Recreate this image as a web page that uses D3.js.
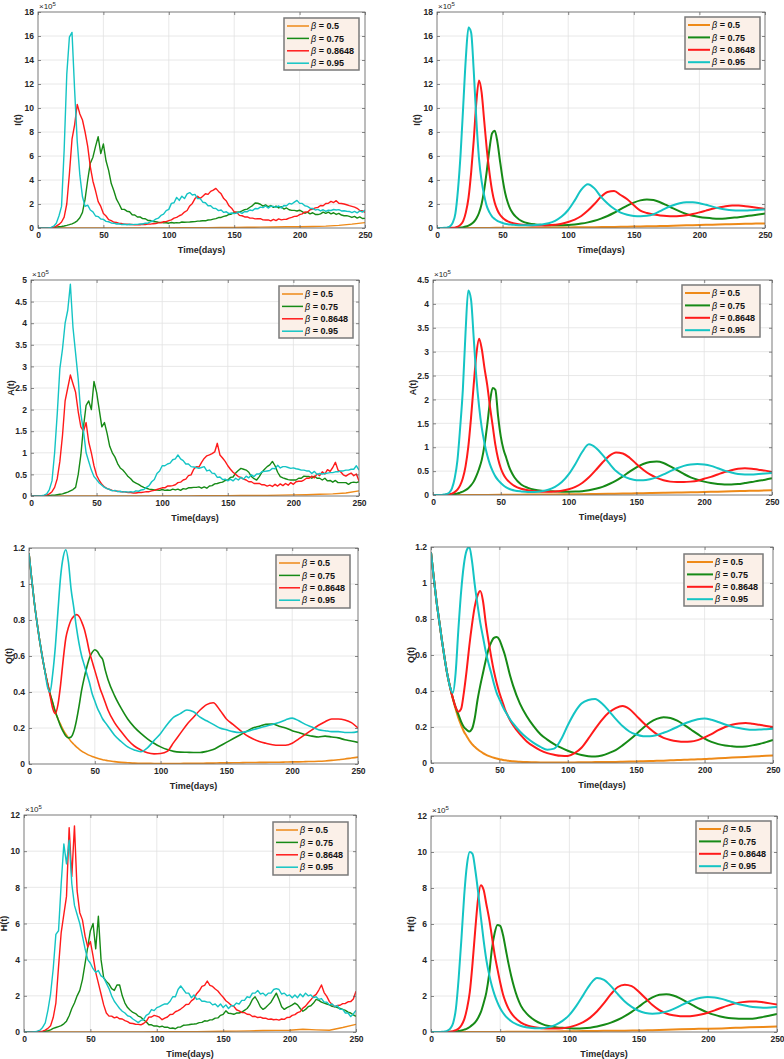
<!DOCTYPE html>
<html><head><meta charset="utf-8">
<script src="https://cdn.jsdelivr.net/npm/d3@7"></script>
<style>body{margin:0;background:#fff}svg{display:block}</style>
</head><body>
<svg id="chart" width="784" height="1059"></svg>
<script>
// ---------- categories / ticks ----------
const betaLabels = ["0.5", "0.75", "0.8648", "0.95"];
const xTicks = [0, 50, 100, 150, 200, 250];
const yTicksI = [0, 2, 4, 6, 8, 10, 12, 14, 16, 18];
const yTicksA_sto = [0, 0.5, 1, 1.5, 2, 2.5, 3, 3.5, 4, 4.5, 5];
const yTicksA_det = [0, 0.5, 1, 1.5, 2, 2.5, 3, 3.5, 4, 4.5];
const yTicksQ = [0, 0.2, 0.4, 0.6, 0.8, 1, 1.2];
const yTicksH = [0, 2, 4, 6, 8, 10, 12];

// ---------- time grids (days) ----------
const t2 = d3.range(0, 251, 2);                                  // stochastic paths
const tS = [...d3.range(0, 61, 2), ...d3.range(65, 251, 5)];     // smooth solutions
const t10 = d3.range(0, 251, 10);                                // slow beta=0.5 curves

// ---------- I(t) stochastic (x10^5) ----------
const I_sto_05 = [0,0,0,0,0,0,0,0,0,0.01, 0.01,0.02,0.02,0.03,0.04,0.05,0.06,0.07,0.08,0.1, 0.11,0.13,0.16,0.22,0.32,0.45];
const I_sto_075 = [
0,0,0,0,0.01,0.02,0.04,0.07,0.1,0.13,
0.17,0.22,0.28,0.35,0.45,0.6,0.85,1.3,2.4,4.0,
5.4,5.9,6.8,7.6,6.2,7.0,5.6,4.8,3.7,3.1,
2.4,2.0,1.55,1.55,1.4,1.35,1.1,1.08,0.92,0.93,
0.78,0.77,0.63,0.62,0.53,0.52,0.48,0.47,0.43,0.44,
0.4,0.46,0.42,0.45,0.43,0.5,0.48,0.49,0.5,0.52,
0.53,0.57,0.58,0.6,0.6,0.67,0.68,0.74,0.78,0.87,
0.88,0.97,1.02,1.13,1.17,1.28,1.32,1.33,1.42,1.53,
1.57,1.73,1.87,2.08,2.06,1.98,1.82,1.93,1.77,1.87,
1.72,1.82,1.67,1.77,1.58,1.67,1.52,1.47,1.47,1.42,
1.48,1.37,1.23,1.32,1.18,1.27,1.13,1.12,1.18,1.32,
1.22,1.32,1.18,1.27,1.13,1.22,1.08,1.02,1.03,0.97,
0.88,0.97,0.83,0.92,0.79,0.8];
const I_sto_08648 = [
0,0,0,0,0,0.01,0.05,0.15,0.3,0.5,
0.9,2.0,4.5,7.4,8.6,10.3,9.5,9.0,8.0,6.8,
5.1,3.9,3.1,2.2,1.8,1.2,1.0,0.7,0.62,0.48,
0.46,0.38,0.37,0.32,0.31,0.29,0.29,0.26,0.28,0.27,
0.31,0.29,0.33,0.32,0.36,0.37,0.43,0.44,0.52,0.53,
0.62,0.68,0.82,0.88,1.02,1.12,1.33,1.46,1.84,2.05,
2.45,2.65,2.45,2.65,2.85,2.8,3.05,3.15,3.3,3.05,
2.85,2.45,2.25,1.85,1.65,1.35,1.3,1.05,1.02,0.92,
0.92,0.82,0.82,0.76,0.77,0.78,0.68,0.67,0.68,0.6,
0.72,0.62,0.76,0.68,0.72,0.73,0.82,0.88,0.97,0.98,
1.12,1.18,1.33,1.32,1.52,1.58,1.68,1.72,1.88,1.86,
2.04,2.06,2.22,2.12,2.28,2.06,2.04,2.0,1.94,1.86,
1.8,1.74,1.64,1.46,1.44,1.3];
const I_sto_095 = [
0,0,0,0,0.02,0.05,0.15,0.4,1.0,1.8,
6.5,12.8,15.9,16.3,11.5,7.2,4.4,2.6,1.8,1.9,
1.5,1.35,1.0,0.95,0.75,0.72,0.55,0.52,0.42,0.4,
0.33,0.35,0.28,0.31,0.27,0.31,0.28,0.3,0.3,0.34,
0.33,0.4,0.4,0.52,0.58,0.74,0.82,1.05,1.15,1.45,
1.55,2.05,2.1,2.55,2.3,2.65,2.45,2.85,2.95,2.75,
2.8,2.45,2.45,2.15,2.1,1.85,1.85,1.65,1.62,1.45,
1.5,1.3,1.35,1.2,1.25,1.2,1.25,1.32,1.22,1.38,
1.36,1.5,1.45,1.62,1.6,1.74,1.7,1.84,1.66,1.82,
1.8,1.72,1.84,1.66,1.88,1.85,2.05,2.0,2.15,2.3,
2.05,2.05,1.85,1.8,1.65,1.63,1.5,1.55,1.42,1.52,
1.38,1.48,1.46,1.54,1.5,1.53,1.42,1.44,1.4,1.38,
1.28,1.38,1.26,1.42,1.32,1.5];

// ---------- I(t) deterministic (x10^5) ----------
const I_det_05 = [0,0,0,0.005,0.01,0.015,0.02,0.025,0.03,0.04, 0.05,0.06,0.07,0.08,0.1,0.12,0.14,0.16,0.19,0.22, 0.25,0.28,0.31,0.33,0.36,0.38];
const I_det_075 = [
0,0,0,0,0,0,0,0.01,0.02,0.04,
0.07,0.12,0.2,0.32,0.5,0.8,1.25,2.0,3.2,4.8,
6.6,7.9,8.1,7.2,5.6,4.1,2.9,2.1,1.55,1.2,
0.95,0.55,0.38,0.3,0.26,0.23,0.22,0.23,0.25,0.3,
0.37,0.47,0.6,0.78,1.0,1.27,1.57,1.87,2.12,2.3,
2.38,2.33,2.15,1.9,1.63,1.38,1.17,1.02,0.92,0.85,
0.8,0.78,0.8,0.85,0.9,0.98,1.05,1.13,1.2];
const I_det_08648 = [
0,0,0,0,0,0.01,0.02,0.05,0.12,0.28,
0.6,1.3,2.5,4.6,7.3,10.5,12.3,11.3,8.9,6.5,
4.6,3.1,2.1,1.5,1.1,0.85,0.68,0.55,0.46,0.4,
0.35,0.27,0.22,0.2,0.2,0.22,0.27,0.35,0.5,0.7,
1.0,1.45,2.0,2.6,3.0,3.08,2.75,2.4,1.9,1.45,
1.25,1.12,1.05,1.0,0.98,1.0,1.07,1.17,1.3,1.45,
1.6,1.72,1.82,1.87,1.87,1.82,1.75,1.67,1.58];
const I_det_095 = [
0,0,0,0.02,0.05,0.15,0.45,1.2,3.2,6.2,
10.2,14.2,16.7,16.3,13.1,9.0,5.8,3.9,2.7,1.8,
1.3,0.95,0.75,0.6,0.5,0.42,0.36,0.32,0.29,0.27,
0.25,0.23,0.23,0.25,0.3,0.4,0.6,0.95,1.5,2.3,
3.2,3.65,3.3,2.6,2.05,1.6,1.28,1.1,1.0,0.98,
1.02,1.15,1.4,1.68,1.9,2.07,2.15,2.15,2.07,1.93,
1.78,1.65,1.55,1.48,1.45,1.45,1.48,1.52,1.55];

// ---------- A(t) stochastic (x10^5) ----------
const A_sto_05 = [0,0,0,0,0,0,0,0,0,0, 0.002,0.003,0.004,0.005,0.006,0.008,0.01,0.012,0.015,0.02, 0.025,0.03,0.04,0.05,0.07,0.12];
const A_sto_075 = [
0,0,0,0,0,0,0.01,0.01,0.02,0.02,
0.03,0.04,0.05,0.07,0.09,0.12,0.15,0.2,0.5,0.95,
1.6,2.1,2.2,2.0,2.65,2.4,2.0,1.6,1.7,1.45,
1.15,1.0,0.9,0.75,0.65,0.6,0.53,0.45,0.4,0.33,
0.3,0.27,0.23,0.2,0.18,0.16,0.15,0.14,0.14,0.13,
0.15,0.13,0.14,0.13,0.16,0.14,0.16,0.13,0.17,0.16,
0.19,0.19,0.2,0.2,0.21,0.18,0.21,0.18,0.23,0.24,
0.28,0.29,0.31,0.32,0.36,0.37,0.43,0.44,0.53,0.59,
0.64,0.62,0.6,0.55,0.45,0.4,0.37,0.45,0.55,0.62,
0.68,0.72,0.8,0.7,0.55,0.45,0.42,0.4,0.38,0.37,
0.37,0.37,0.41,0.41,0.46,0.45,0.45,0.41,0.46,0.41,
0.41,0.37,0.41,0.35,0.36,0.32,0.36,0.31,0.31,0.31,
0.31,0.27,0.31,0.32,0.31,0.33];
const A_sto_08648 = [
0,0,0,0,0,0.01,0.02,0.05,0.1,0.2,
0.4,0.8,1.4,2.2,2.5,2.8,2.6,2.4,1.95,1.6,
1.5,1.7,1.25,1.0,0.7,0.48,0.36,0.27,0.21,0.17,
0.15,0.13,0.12,0.11,0.1,0.1,0.09,0.08,0.08,0.07,
0.07,0.08,0.08,0.09,0.1,0.1,0.12,0.13,0.15,0.17,
0.19,0.19,0.23,0.23,0.24,0.26,0.31,0.32,0.37,0.39,
0.47,0.49,0.62,0.68,0.67,0.78,0.87,0.93,0.95,0.98,
1.02,1.22,0.95,0.88,0.8,0.7,0.62,0.55,0.5,0.45,
0.43,0.39,0.37,0.33,0.33,0.29,0.29,0.29,0.26,0.26,
0.23,0.25,0.22,0.27,0.23,0.28,0.24,0.29,0.25,0.31,
0.27,0.33,0.34,0.34,0.37,0.41,0.41,0.46,0.42,0.51,
0.47,0.56,0.51,0.61,0.57,0.66,0.78,0.6,0.56,0.49,
0.46,0.5,0.53,0.47,0.51,0.35];
const A_sto_095 = [
0,0,0,0,0.01,0.02,0.05,0.15,0.35,1.0,
1.9,2.95,3.4,4.0,4.3,4.9,3.9,3.3,2.7,1.9,
1.5,1.0,0.8,0.6,0.45,0.38,0.3,0.25,0.2,0.17,
0.15,0.12,0.13,0.1,0.11,0.09,0.1,0.09,0.1,0.09,
0.12,0.11,0.14,0.15,0.2,0.24,0.33,0.38,0.52,0.58,
0.7,0.7,0.74,0.76,0.84,0.86,0.95,0.86,0.82,0.74,
0.74,0.68,0.67,0.66,0.64,0.66,0.68,0.58,0.6,0.53,
0.52,0.43,0.44,0.38,0.39,0.35,0.39,0.35,0.41,0.37,
0.43,0.39,0.46,0.42,0.49,0.45,0.51,0.51,0.56,0.57,
0.58,0.59,0.64,0.63,0.71,0.65,0.68,0.68,0.66,0.64,
0.65,0.63,0.62,0.6,0.6,0.58,0.58,0.52,0.57,0.5,
0.52,0.51,0.52,0.53,0.54,0.54,0.56,0.56,0.58,0.58,
0.6,0.6,0.62,0.62,0.7,0.6];

// ---------- A(t) deterministic (x10^5) ----------
const A_det_05 = [0,0,0,0,0.002,0.004,0.006,0.008,0.01,0.012, 0.015,0.018,0.022,0.026,0.03,0.035,0.04,0.045,0.05,0.055, 0.065,0.07,0.08,0.085,0.09,0.1];
const A_det_075 = [
0,0,0,0,0,0,0.005,0.01,0.02,0.03,
0.05,0.07,0.1,0.14,0.2,0.28,0.4,0.55,0.74,1.05,
1.47,1.95,2.24,2.2,1.65,1.22,0.95,0.78,0.6,0.47,
0.37,0.22,0.15,0.11,0.09,0.08,0.075,0.07,0.07,0.072,
0.08,0.1,0.13,0.17,0.23,0.3,0.39,0.49,0.58,0.65,
0.69,0.7,0.67,0.6,0.52,0.44,0.37,0.32,0.28,0.25,
0.23,0.22,0.22,0.23,0.25,0.27,0.3,0.32,0.35];
const A_det_08648 = [
0,0,0,0,0,0.01,0.015,0.03,0.06,0.11,
0.2,0.35,0.6,1.0,1.6,2.3,2.95,3.27,3.05,2.65,
2.3,1.85,1.45,1.05,0.76,0.56,0.43,0.34,0.28,0.23,
0.19,0.13,0.1,0.08,0.07,0.07,0.075,0.09,0.12,0.17,
0.25,0.37,0.52,0.68,0.82,0.89,0.87,0.78,0.65,0.53,
0.43,0.36,0.31,0.28,0.27,0.27,0.28,0.3,0.34,0.38,
0.43,0.48,0.52,0.55,0.56,0.55,0.53,0.51,0.48];
const A_det_095 = [
0,0,0,0,0.01,0.02,0.05,0.14,0.35,0.72,
1.4,2.2,3.4,4.28,4.1,3.3,2.45,1.85,1.4,1.08,
0.83,0.64,0.5,0.39,0.31,0.25,0.2,0.16,0.13,0.11,
0.095,0.075,0.065,0.065,0.08,0.11,0.17,0.27,0.43,0.65,
0.9,1.06,0.99,0.84,0.66,0.5,0.4,0.34,0.31,0.31,
0.33,0.37,0.43,0.5,0.56,0.61,0.64,0.65,0.64,0.61,
0.56,0.51,0.47,0.44,0.43,0.43,0.44,0.45,0.46];

// ---------- Q(t) stochastic ----------
const Q_sto_05 = [
1.17,1.03,0.9,0.79,0.69,0.6,0.52,0.45,0.39,0.34,
0.29,0.25,0.22,0.19,0.165,0.145,0.125,0.11,0.095,0.083,
0.072,0.063,0.055,0.048,0.042,0.037,0.032,0.028,0.024,0.021,
0.018,0.013,0.009,0.007,0.005,0.004,0.004,0.003,0.003,0.003,
0.003,0.003,0.004,0.004,0.004,0.005,0.005,0.006,0.006,0.007,
0.007,0.008,0.008,0.009,0.009,0.01,0.01,0.011,0.012,0.012,
0.013,0.014,0.015,0.017,0.02,0.024,0.028,0.033,0.038];
const Q_sto_075 = [
1.17,1.03,0.9,0.79,0.69,0.6,0.52,0.45,0.39,0.34,
0.29,0.25,0.21,0.18,0.155,0.145,0.15,0.18,0.24,0.32,
0.41,0.48,0.54,0.59,0.62,0.635,0.625,0.6,0.58,0.52,
0.47,0.38,0.31,0.25,0.205,0.17,0.14,0.115,0.095,0.08,
0.07,0.066,0.065,0.064,0.064,0.07,0.08,0.1,0.12,0.14,
0.16,0.18,0.2,0.21,0.22,0.222,0.21,0.2,0.185,0.175,
0.162,0.155,0.15,0.155,0.15,0.145,0.135,0.128,0.12];
const Q_sto_08648 = [
1.17,1.03,0.9,0.79,0.69,0.6,0.52,0.45,0.38,0.31,
0.28,0.33,0.44,0.58,0.7,0.76,0.8,0.82,0.83,0.82,
0.79,0.75,0.69,0.62,0.57,0.52,0.47,0.42,0.38,0.34,
0.3,0.23,0.18,0.135,0.1,0.078,0.062,0.056,0.058,0.07,
0.12,0.17,0.22,0.26,0.3,0.33,0.34,0.3,0.25,0.22,
0.19,0.16,0.14,0.125,0.115,0.107,0.104,0.104,0.115,0.14,
0.165,0.19,0.215,0.235,0.25,0.25,0.245,0.23,0.2];
const Q_sto_095 = [
1.17,1.03,0.9,0.79,0.69,0.6,0.52,0.43,0.4,0.5,
0.65,0.85,1.04,1.15,1.19,1.12,0.97,0.87,0.76,0.67,
0.6,0.55,0.5,0.45,0.39,0.35,0.31,0.28,0.25,0.23,
0.21,0.16,0.125,0.095,0.078,0.068,0.09,0.13,0.17,0.22,
0.26,0.28,0.3,0.29,0.26,0.24,0.22,0.2,0.19,0.18,
0.175,0.18,0.19,0.2,0.21,0.22,0.23,0.245,0.255,0.24,
0.22,0.205,0.19,0.185,0.18,0.18,0.175,0.175,0.18];

// ---------- Q(t) deterministic ----------
const Q_det_05 = [
1.17,1.03,0.9,0.79,0.68,0.58,0.49,0.42,0.355,0.3,
0.25,0.21,0.175,0.15,0.125,0.105,0.09,0.076,0.065,0.055,
0.047,0.04,0.034,0.029,0.025,0.021,0.018,0.015,0.013,0.011,
0.01,0.007,0.005,0.004,0.003,0.003,0.003,0.003,0.003,0.003,
0.004,0.004,0.005,0.005,0.006,0.006,0.007,0.008,0.009,0.01,
0.011,0.012,0.013,0.015,0.016,0.018,0.019,0.021,0.022,0.024,
0.026,0.028,0.03,0.032,0.034,0.036,0.038,0.04,0.041];
const Q_det_075 = [
1.17,1.03,0.9,0.79,0.68,0.58,0.49,0.42,0.36,0.31,
0.27,0.23,0.2,0.185,0.175,0.19,0.25,0.35,0.43,0.5,
0.57,0.63,0.67,0.695,0.7,0.685,0.645,0.6,0.54,0.48,
0.43,0.33,0.26,0.205,0.16,0.13,0.105,0.085,0.068,0.055,
0.045,0.038,0.036,0.042,0.055,0.072,0.098,0.128,0.16,0.195,
0.225,0.245,0.254,0.25,0.235,0.212,0.186,0.16,0.135,0.117,
0.105,0.097,0.093,0.09,0.092,0.098,0.106,0.116,0.128];
const Q_det_08648 = [
1.17,1.03,0.9,0.79,0.68,0.58,0.49,0.42,0.36,0.31,
0.285,0.3,0.39,0.51,0.65,0.77,0.87,0.93,0.955,0.9,
0.78,0.68,0.59,0.51,0.445,0.39,0.345,0.3,0.265,0.235,
0.21,0.16,0.12,0.092,0.07,0.055,0.046,0.04,0.039,0.055,
0.085,0.135,0.19,0.24,0.28,0.305,0.317,0.3,0.263,0.225,
0.19,0.16,0.14,0.128,0.121,0.118,0.119,0.127,0.142,0.16,
0.182,0.2,0.213,0.22,0.222,0.218,0.212,0.206,0.2];
const Q_det_095 = [
1.17,1.03,0.9,0.79,0.68,0.58,0.49,0.42,0.39,0.5,
0.74,0.95,1.1,1.18,1.2,1.12,0.99,0.88,0.78,0.7,
0.62,0.555,0.5,0.44,0.39,0.355,0.32,0.29,0.265,0.24,
0.22,0.175,0.14,0.112,0.09,0.074,0.08,0.13,0.21,0.28,
0.33,0.35,0.356,0.33,0.29,0.245,0.205,0.175,0.158,0.149,
0.148,0.155,0.168,0.183,0.2,0.218,0.232,0.243,0.247,0.24,
0.228,0.214,0.202,0.194,0.188,0.185,0.186,0.188,0.19];

// ---------- H(t) stochastic (x10^5) ----------
const H_sto_05 = [0,0,0,0,0,0,0,0,0,0, 0.01,0.01,0.02,0.02,0.03,0.04,0.05,0.06,0.08,0.09, 0.1,0.15,0.12,0.1,0.25,0.42];
const H_sto_075 = [
0,0,0,0,0,0,0.01,0.02,0.04,0.07,
0.12,0.2,0.25,0.3,0.35,0.45,0.6,0.9,1.3,1.6,
2.0,2.3,2.9,3.8,4.7,5.6,6.0,4.6,6.4,4.0,
3.0,2.8,2.65,2.4,2.3,2.6,2.6,2.0,1.6,1.35,
1.2,1.08,1.02,0.88,0.82,0.68,0.57,0.4,0.4,0.33,
0.34,0.28,0.32,0.26,0.27,0.2,0.22,0.18,0.27,0.28,
0.37,0.38,0.4,0.43,0.44,0.46,0.52,0.53,0.62,0.6,
0.67,0.68,0.77,0.78,0.92,0.98,1.17,1.03,1.02,0.98,
1.05,1.05,1.1,1.2,1.3,1.5,1.8,1.95,1.7,1.4,
1.25,1.35,1.5,1.65,1.9,2.15,1.8,1.4,1.25,1.35,
1.42,1.5,1.6,1.5,1.3,1.15,1.25,1.4,1.45,1.6,
1.8,1.75,1.65,1.6,1.55,1.5,1.42,1.4,1.35,1.3,
1.25,1.2,1.1,1.05,0.95,0.87];
const H_sto_08648 = [
0,0,0,0,0,0.01,0.02,0.05,0.1,0.2,
0.35,0.8,1.6,3.6,5.5,6.5,7.5,11.3,8.6,11.4,
7.8,6.6,6.2,5.3,4.7,5.0,4.2,3.3,2.7,2.1,
1.5,1.05,0.88,0.88,0.78,0.83,0.73,0.72,0.63,0.57,
0.48,0.47,0.43,0.42,0.4,0.47,0.58,0.82,0.83,0.92,
0.88,0.82,0.68,0.77,0.83,0.97,0.98,1.12,1.18,1.27,
1.38,1.52,1.53,1.72,1.83,2.12,2.28,2.52,2.58,2.82,
2.58,2.52,2.38,2.27,2.08,1.92,1.73,1.62,1.48,1.42,
1.23,1.17,1.08,1.07,0.98,0.97,0.86,0.87,0.8,0.82,
0.76,0.77,0.7,0.72,0.68,0.7,0.66,0.72,0.7,0.8,
0.81,0.92,0.96,1.07,1.13,1.32,1.43,1.62,1.78,1.97,
2.08,2.32,2.6,2.18,1.97,1.68,1.52,1.4,1.47,1.48,
1.57,1.58,1.67,1.68,1.82,2.25];
const H_sto_095 = [
0,0,0,0,0.01,0.05,0.1,0.25,0.5,1.2,
2.1,3.5,5.4,5.6,8.2,10.4,9.3,10.6,8.2,7.0,
6.5,6.0,5.3,4.6,4.0,3.8,3.5,3.3,3.4,3.1,
3.0,2.7,2.4,2.0,1.7,1.5,1.3,1.15,1.05,0.9,
0.85,0.72,0.62,0.52,0.64,0.68,0.92,1.0,1.24,1.18,
1.35,1.4,1.48,1.55,1.55,1.7,1.95,1.95,2.35,2.55,
2.35,2.15,2.15,1.9,2.05,1.8,1.85,1.7,1.7,1.65,
1.65,1.5,1.55,1.4,1.55,1.35,1.5,1.3,1.45,1.45,
1.6,1.55,1.75,1.75,1.95,1.9,2.15,2.15,2.3,2.1,
2.15,2.0,2.15,2.15,2.35,2.4,2.35,2.1,2.15,2.0,
2.05,1.9,2.05,1.9,2.1,1.95,2.15,2.0,2.05,1.9,
1.95,1.8,1.85,1.65,1.65,1.5,1.55,1.4,1.45,1.25,
1.25,1.05,1.05,0.85,1.0,1.2];

// ---------- H(t) deterministic (x10^5) ----------
const H_det_05 = [0,0,0,0,0.002,0.005,0.01,0.015,0.02,0.03, 0.04,0.05,0.06,0.07,0.075,0.08,0.1,0.12,0.15,0.17, 0.18,0.2,0.23,0.26,0.28,0.3];
const H_det_075 = [
0,0,0,0,0,0,0,0.01,0.02,0.03,
0.05,0.08,0.13,0.19,0.28,0.4,0.55,0.78,1.1,1.6,
2.2,3.2,4.6,5.5,5.95,5.9,5.4,4.6,3.8,3.1,
2.5,1.45,0.95,0.65,0.45,0.33,0.27,0.23,0.21,0.2,
0.21,0.24,0.3,0.4,0.52,0.68,0.88,1.12,1.4,1.68,
1.92,2.07,2.1,2.03,1.87,1.66,1.45,1.25,1.08,0.95,
0.85,0.78,0.75,0.74,0.74,0.77,0.84,0.92,1.0];
const H_det_08648 = [
0,0,0,0,0,0,0.01,0.02,0.05,0.1,
0.2,0.38,0.7,1.3,2.2,3.8,5.7,7.4,8.15,7.9,
7.1,6.3,5.3,4.3,3.5,2.75,2.1,1.65,1.3,1.05,
0.85,0.52,0.35,0.26,0.21,0.19,0.19,0.21,0.27,0.38,
0.55,0.8,1.15,1.6,2.1,2.5,2.63,2.55,2.25,1.87,
1.5,1.22,1.03,0.93,0.88,0.87,0.9,0.97,1.07,1.2,
1.35,1.48,1.59,1.66,1.69,1.69,1.65,1.59,1.52];
const H_det_095 = [
0,0,0,0,0.01,0.03,0.08,0.2,0.5,1.3,
3.0,5.2,7.6,9.3,10.0,9.9,9.0,7.8,6.4,5.1,
4.0,3.2,2.55,2.05,1.65,1.32,1.07,0.87,0.72,0.6,
0.5,0.33,0.25,0.21,0.21,0.27,0.4,0.62,0.95,1.45,
2.05,2.65,3.0,2.9,2.55,2.1,1.7,1.4,1.18,1.06,
1.02,1.04,1.13,1.27,1.45,1.64,1.8,1.9,1.94,1.92,
1.84,1.72,1.6,1.5,1.42,1.37,1.35,1.36,1.39];

// ---------- styling & layout ----------
const colors = ["#EE8A18", "#168A16", "#FF1A1A", "#14C4C4"];
const FONT = "Arial, 'Liberation Sans', Helvetica, sans-serif";

const panels = [
  {box:[38,12,365,228],  yMax:18, yTicks:yTicksI,     ylab:"I(t)", exp:true,  smooth:false,
   series:[[t10,I_sto_05],[t2,I_sto_075],[t2,I_sto_08648],[t2,I_sto_095]], leg:[284,18,75,52]},
  {box:[437,12,765,228], yMax:18, yTicks:yTicksI,     ylab:"I(t)", exp:true,  smooth:true,
   series:[[t10,I_det_05],[tS,I_det_075],[tS,I_det_08648],[tS,I_det_095]], leg:[685,17,75,52]},
  {box:[31,280,359,496], yMax:5, yTicks:yTicksA_sto,  ylab:"A(t)", exp:true,  smooth:false,
   series:[[t10,A_sto_05],[t2,A_sto_075],[t2,A_sto_08648],[t2,A_sto_095]], leg:[279,286,74,52]},
  {box:[433,280,772,495], yMax:4.5, yTicks:yTicksA_det, ylab:"A(t)", exp:true, smooth:true,
   series:[[t10,A_det_05],[tS,A_det_075],[tS,A_det_08648],[tS,A_det_095]], leg:[682,285,78,52]},
  {box:[29,548,358,764], yMax:1.2, yTicks:yTicksQ,    ylab:"Q(t)", exp:false, smooth:true, thin:true,
   series:[[tS,Q_sto_05],[tS,Q_sto_075],[tS,Q_sto_08648],[tS,Q_sto_095]], leg:[276,555,74,53]},
  {box:[431,547,773,763], yMax:1.2, yTicks:yTicksQ,   ylab:"Q(t)", exp:false, smooth:true,
   series:[[tS,Q_det_05],[tS,Q_det_075],[tS,Q_det_08648],[tS,Q_det_095]], leg:[684,554,79,52]},
  {box:[24,815,356,1032], yMax:12, yTicks:yTicksH,    ylab:"H(t)", exp:true,  smooth:false,
   series:[[t10,H_sto_05],[t2,H_sto_075],[t2,H_sto_08648],[t2,H_sto_095]], leg:[273,822,75,53]},
  {box:[431,816,777,1032], yMax:12, yTicks:yTicksH,   ylab:"H(t)", exp:true,  smooth:true,
   series:[[t10,H_det_05],[tS,H_det_075],[tS,H_det_08648],[tS,H_det_095]], leg:[696,821,75,52]}
];

const svg = d3.select("#chart");
svg.append("rect").attr("width",784).attr("height",1059).attr("fill","#fff");

panels.forEach((p, pi) => {
  const [x0,y0,x1,y1] = p.box;
  const w = x1 - x0, h = y1 - y0;
  const x = d3.scaleLinear().domain([0,250]).range([0,w]);
  const y = d3.scaleLinear().domain([0,p.yMax]).range([h,0]);
  const g = svg.append("g").attr("transform",`translate(${x0},${y0})`);

  const grid = g.append("g").attr("stroke","#e2e2e2").attr("stroke-width",0.8);
  xTicks.forEach(t => grid.append("line").attr("x1",x(t)).attr("x2",x(t)).attr("y1",0).attr("y2",h));
  p.yTicks.forEach(t => grid.append("line").attr("x1",0).attr("x2",w).attr("y1",y(t)).attr("y2",y(t)));

  const cid = "clip"+pi;
  g.append("clipPath").attr("id",cid).append("rect").attr("width",w).attr("height",h);

  const line = d3.line().x(d=>x(d[0])).y(d=>y(d[1]))
    .curve(p.smooth ? d3.curveMonotoneX : d3.curveLinear);
  const lw = p.smooth && !p.thin ? 2 : (p.thin ? 1.6 : 1.4);
  const lg = g.append("g").attr("clip-path",`url(#${cid})`);
  p.series.forEach((s, si) => {
    const [tt, vv] = s;
    const pts = vv.map((v,i)=>[tt[i], v]).filter(d => d[0] !== undefined);
    lg.append("path").datum(pts).attr("d",line).attr("fill","none")
      .attr("stroke",colors[si]).attr("stroke-width",lw).attr("stroke-linejoin","round");
  });

  const axStyle = sel => {
    sel.select(".domain").remove();
    sel.selectAll(".tick line").attr("stroke","#555").attr("stroke-width",0.7);
    sel.selectAll(".tick text").attr("font-family",FONT).attr("font-size",8.5)
      .attr("font-weight","bold").attr("fill","#262626");
  };
  g.append("g").attr("transform",`translate(0,${h})`)
    .call(d3.axisBottom(x).tickValues(xTicks).tickSize(-3).tickPadding(4).tickFormat(d=>String(d))).call(axStyle);
  g.append("g").call(d3.axisTop(x).tickValues(xTicks).tickSize(-3).tickFormat(()=>"")).call(axStyle);
  g.append("g").call(d3.axisLeft(y).tickValues(p.yTicks).tickSize(-3).tickPadding(4).tickFormat(d=>String(d))).call(axStyle);
  g.append("g").attr("transform",`translate(${w},0)`)
    .call(d3.axisRight(y).tickValues(p.yTicks).tickSize(-3).tickFormat(()=>"")).call(axStyle);

  g.append("rect").attr("width",w).attr("height",h).attr("fill","none")
    .attr("stroke","#6a6a6a").attr("stroke-width",0.8);

  if (p.exp) {
    const t = g.append("text").attr("x",1).attr("y",-3).attr("font-family",FONT)
      .attr("font-size",8).attr("fill","#262626").text("\u00d710");
    t.append("tspan").attr("dy",-3.5).attr("font-size",6).text("5");
  }

  g.append("text").attr("x",w/2).attr("y",h+24.5).attr("text-anchor","middle")
    .attr("font-family",FONT).attr("font-size",9).attr("font-weight","bold").attr("fill","#262626")
    .text("Time(days)");
  g.append("text").attr("transform",`translate(-20,${h/2}) rotate(-90)`).attr("text-anchor","middle")
    .attr("dy","0.35em").attr("font-family",FONT).attr("font-size",9).attr("font-weight","bold")
    .attr("fill","#262626").text(p.ylab);

  const [lx,ly,lwid,lh] = p.leg;
  const L = svg.append("g").attr("transform",`translate(${lx},${ly})`);
  L.append("rect").attr("width",lwid).attr("height",lh).attr("fill","#FBF0E8")
    .attr("stroke","#7a7a7a").attr("stroke-width",1.5);
  const textX = lwid - 48;
  betaLabels.forEach((b, i) => {
    const cy = 8 + i*12.4;
    L.append("line").attr("x1",3).attr("x2",textX-2).attr("y1",cy).attr("y2",cy)
      .attr("stroke",colors[i]).attr("stroke-width",p.smooth && !p.thin ? 2 : 1.5);
    const tx = L.append("text").attr("x",textX).attr("y",cy).attr("dy","0.35em")
      .attr("font-family",FONT).attr("font-size",9).attr("font-weight","bold").attr("fill","#111");
    tx.append("tspan").attr("font-style","italic").attr("font-weight","normal").text("\u03b2");
    tx.append("tspan").text(" = " + b);
  });
});
</script>
</body></html>
